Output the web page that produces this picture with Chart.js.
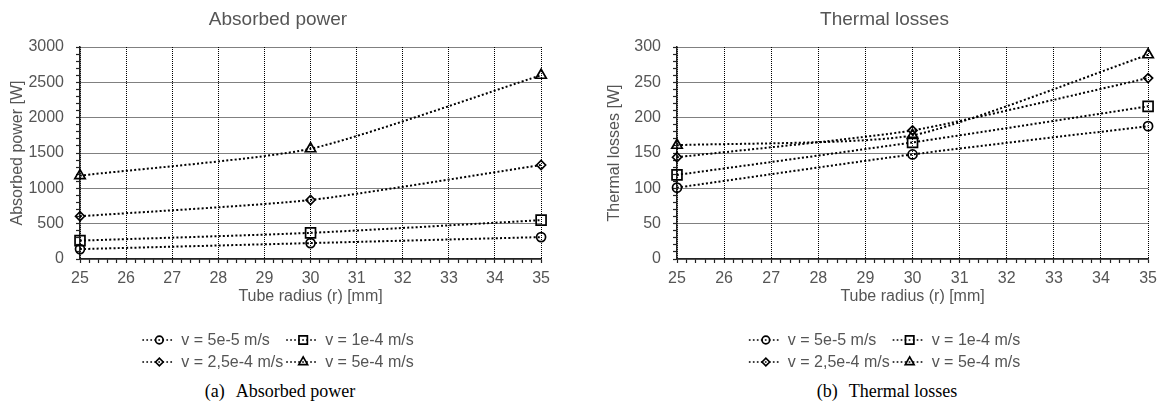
<!DOCTYPE html>
<html>
<head>
<meta charset="utf-8">
<title>Absorbed power and thermal losses</title>
<script src="https://cdn.jsdelivr.net/npm/chart.js@4.4.1/dist/chart.umd.min.js"></script>
<style>
  body { margin: 0; background: #fff; width: 1163px; height: 416px; position: relative; overflow: hidden; }
  .panel { position: absolute; top: 0; }
  .caption { position: absolute; top: 381px; width: 400px; text-align: center;
    font-family: "Liberation Serif", "Times New Roman", serif; font-size: 18px; color: #000; }
  .caption span { margin-right: 11px; }
</style>
</head>
<body>
<div class="panel" style="left:0"><canvas id="absorbedChart" width="556" height="375"></canvas></div>
<div class="panel" style="left:606px"><canvas id="lossesChart" width="557" height="375"></canvas></div>
<div class="caption" style="left:80px"><span>(a)</span>Absorbed power</div>
<div class="caption" style="left:687px"><span>(b)</span>Thermal losses</div>
<script>
// Tube radius samples [mm]
const tubeRadius = [25, 30, 35];

// Flow velocities, one series each
const seriesLabels = ["v = 5e-5 m/s", "v = 1e-4 m/s", "v = 2,5e-4 m/s", "v = 5e-4 m/s"];
const markerStyles = ["circle", "rect", "rectRot", "triangle"];
const markerSizes = [4.5, 7, 4.5, 6];

// Absorbed power [W]
const absorbedV1 = [140, 225, 310];
const absorbedV2 = [260, 370, 550];
const absorbedV3 = [605, 835, 1330];
const absorbedV4 = [1180, 1560, 2600];

// Thermal losses [W]
const lossesV1 = [101, 148, 188];
const lossesV2 = [119, 165, 216];
const lossesV3 = [144, 182, 256];
const lossesV4 = [161, 175, 289];

Chart.defaults.font.family = "'Liberation Sans', Arial, sans-serif";
Chart.defaults.color = "#555";

const onStep = (value, step) => Math.abs(value / step - Math.round(value / step)) < 1e-6;

// legend laid out as two columns, dotted lead line with the marker in it
const pairLegend = {
  id: "pairLegend",
  afterDraw(chart) {
    const ctx = chart.ctx;
    const sets = chart.data.datasets;
    const iconW = 39;
    ctx.save();
    ctx.font = "16px 'Liberation Sans', Arial, sans-serif";
    const w = (i) => ctx.measureText(sets[i].label).width;
    const colW = iconW + Math.max(w(0), w(2)) + 3;
    const totalW = colW + iconW + Math.max(w(1), w(3));
    const x0 = chart.width / 2 - totalW / 2;
    const top = chart.scales.x.bottom + 31;

    sets.forEach((ds, i) => {
      const x = x0 + (i % 2) * colW;
      const y = top + Math.floor(i / 2) * 22;
      ctx.strokeStyle = "#000";
      ctx.lineWidth = 1.7;
      ctx.setLineDash([1.7, 2.3]);
      ctx.beginPath();
      ctx.moveTo(x, y);
      ctx.lineTo(x + 32, y);
      ctx.stroke();
      ctx.setLineDash([]);
      ctx.fillStyle = "rgba(0,0,0,0)";
      Chart.helpers.drawPoint(ctx, {
        pointStyle: ds.pointStyle,
        radius: ds.pointRadius * 0.85,
        borderWidth: 1.9,
        rotation: 0
      }, x + 17, y);
      ctx.fillStyle = "#555";
      ctx.textBaseline = "middle";
      ctx.fillText(ds.label, x + iconW, y + 1);
    });
    ctx.restore();
  }
};

const createChart = (canvasId, title, yTitle, yMax, yMinor, yMajor, yAxisWidth, series) => {
  const canvas = document.getElementById(canvasId);
  if (!canvas) {
    return;
  }

  const datasets = series.map((values, i) => ({
    label: seriesLabels[i],
    data: values.map((v, j) => ({ x: tubeRadius[j], y: v })),
    borderColor: "#000",
    backgroundColor: "rgba(0,0,0,0)",
    borderWidth: 2,
    borderDash: [2, 2.2],
    tension: 0.2,
    pointStyle: markerStyles[i],
    pointRadius: markerSizes[i],
    pointBorderWidth: 1.7,
    pointBorderColor: "#000",
    pointBackgroundColor: "rgba(0,0,0,0)",
    clip: false
  }));

  return new Chart(canvas.getContext("2d"), {
    type: "line",
    data: { datasets: datasets },
    options: {
      responsive: false,
      animation: false,
      layout: { padding: { left: 0, right: 0, top: 0, bottom: 66 } },
      plugins: {
        legend: { display: false },
        tooltip: { enabled: false },
        title: {
          display: true,
          text: title,
          color: "#555",
          font: { size: 19, weight: "normal" },
          padding: { top: 8.6, bottom: 15.6 }
        }
      },
      scales: {
        x: {
          type: "linear",
          min: 25,
          max: 35,
          afterFit: (scale) => { scale.height = 50; },
          grid: {
            color: (c) => (c.tick && onStep(c.tick.value, 1) ? "#000" : "rgba(0,0,0,0)"),
            lineWidth: 1,
            tickColor: "#222",
            tickLength: 4,
            tickWidth: 1.2
          },
          border: { display: true, color: "#222", width: 1.5, dash: [1, 1] },
          ticks: {
            stepSize: 0.2,
            autoSkip: false,
            maxRotation: 0,
            padding: 6,
            color: "#555",
            font: { size: 16 },
            callback: (v) => (onStep(v, 1) ? String(Math.round(v)) : "")
          },
          title: {
            display: true,
            text: "Tube radius (r) [mm]",
            color: "#555",
            font: { size: 16 },
            padding: { top: 0, bottom: 2.4 }
          }
        },
        y: {
          min: 0,
          max: yMax,
          afterFit: (scale) => { scale.width = yAxisWidth; },
          grid: {
            color: (c) => (c.tick && onStep(c.tick.value, yMajor) ? "#000" : "rgba(0,0,0,0)"),
            lineWidth: 1,
            tickColor: "#222",
            tickLength: 4,
            tickWidth: 1.2
          },
          border: { display: true, color: "#222", width: 1.5, dash: [1, 1] },
          ticks: {
            stepSize: yMinor,
            autoSkip: false,
            padding: 12,
            color: "#555",
            font: { size: 16 },
            callback: (v) => (onStep(v, yMajor) ? String(Math.round(v)) : "")
          },
          title: {
            display: true,
            text: yTitle,
            color: "#555",
            font: { size: 16 },
            padding: { top: yAxisWidth - 71.6, bottom: 0 }
          }
        }
      }
    },
    plugins: [pairLegend]
  });
};

createChart("absorbedChart", "Absorbed power", "Absorbed power [W]", 3000, 100, 500, 80,
  [absorbedV1, absorbedV2, absorbedV3, absorbedV4]);
createChart("lossesChart", "Thermal losses", "Thermal losses [W]", 300, 10, 50, 71,
  [lossesV1, lossesV2, lossesV3, lossesV4]);
</script>
</body>
</html>
